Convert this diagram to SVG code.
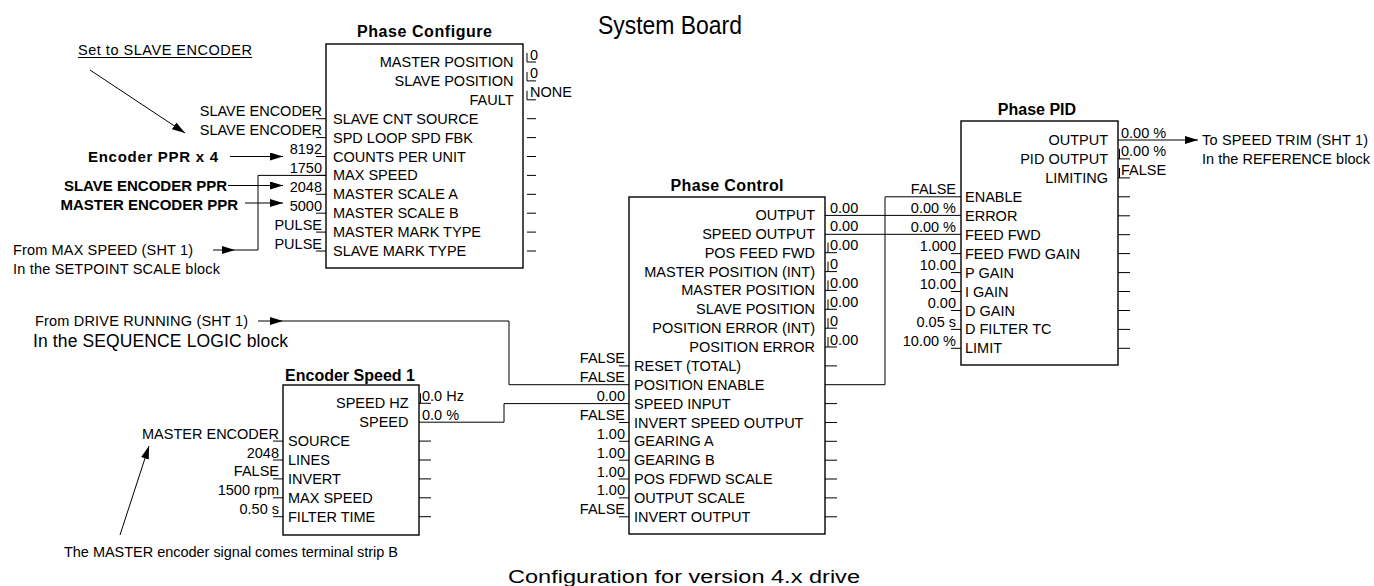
<svg xmlns="http://www.w3.org/2000/svg" width="1374" height="586" viewBox="0 0 1374 586">
<defs>
<style>
text{font-family:"Liberation Sans",Arial,sans-serif;fill:#000}
.t{font-size:14.5px}
.e{text-anchor:end}
.m{text-anchor:middle}
.b{font-size:15px;font-weight:bold}
.ttl{font-size:16px;font-weight:bold;text-anchor:middle}
.box{fill:#fff;stroke:#000;stroke-width:1.4}
.ln{fill:none;stroke:#000;stroke-width:1}
</style>
<marker id="arr" viewBox="0 0 13 8" refX="13" refY="4" markerWidth="13" markerHeight="8" markerUnits="userSpaceOnUse" orient="auto"><path d="M0,0 L13,4 L0,8 z" fill="#000"/></marker>
</defs>
<rect width="1374" height="586" fill="#fff"/>

<text x="598" y="34" style="font-size:26px" textLength="144" lengthAdjust="spacingAndGlyphs">System Board</text>
<text x="508" y="583" style="font-size:18px" textLength="352" lengthAdjust="spacingAndGlyphs">Configuration for version 4.x drive</text>

<!-- annotations -->
<g id="notes">
<text class="t" x="78" y="55" textLength="174">Set to SLAVE ENCODER</text>
<path class="ln" d="M78,57.5 H252"/>
<text class="b" x="88" y="161.5" textLength="130">Encoder PPR x 4</text>
<text class="b e" x="227" y="190.5">SLAVE ENCODER PPR</text>
<text class="b e" x="238" y="210">MASTER ENCODER PPR</text>
<text class="t" x="13" y="255" textLength="180">From MAX SPEED (SHT 1)</text>
<text class="t" x="13" y="274" textLength="207">In the SETPOINT SCALE block</text>
<text class="t" x="35" y="326" textLength="213">From DRIVE RUNNING (SHT 1)</text>
<text x="33" y="347" style="font-size:17.5px" textLength="255">In the SEQUENCE LOGIC block</text>
<text class="t" x="1202" y="145" textLength="166">To SPEED TRIM (SHT 1)</text>
<text class="t" x="1202" y="163.5" textLength="168">In the REFERENCE block</text>
<text class="t" x="64" y="557" textLength="334">The MASTER encoder signal comes terminal strip B</text>
</g>

<!-- Phase Configure -->
<g id="phase-configure">
<rect class="box" x="326" y="44" width="197" height="224"/>
<text class="ttl" x="424.5" y="37" textLength="135">Phase Configure</text>
<text class="t e" x="513.5" y="67">MASTER POSITION</text>
<text class="t e" x="513.5" y="85.9">SLAVE POSITION</text>
<text class="t e" x="513.5" y="104.8">FAULT</text>
<text class="t" x="333" y="123.7">SLAVE CNT SOURCE</text>
<text class="t" x="333" y="142.6">SPD LOOP SPD FBK</text>
<text class="t" x="333" y="161.5">COUNTS PER UNIT</text>
<text class="t" x="333" y="180.4">MAX SPEED</text>
<text class="t" x="333" y="199.3">MASTER SCALE A</text>
<text class="t" x="333" y="218.2">MASTER SCALE B</text>
<text class="t" x="333" y="237.1">MASTER MARK TYPE</text>
<text class="t" x="333" y="256">SLAVE MARK TYPE</text>
<path class="ln" d="M527,53 V62 H536 M527,71.9 V80.9 H536 M527,90.8 V99.8 H536 M527,118.7 H536 M527,137.6 H536 M527,156.5 H536 M527,175.4 H536 M527,194.3 H536 M527,213.2 H536 M527,232.1 H536 M527,251 H536"/>
<text class="t" x="530" y="59.5">0</text>
<text class="t" x="530" y="78.4">0</text>
<text class="t" x="530" y="97.3">NONE</text>
<path class="ln" d="M316,118.7 H326 M316,137.6 H326 M316,156.5 H326 M316,175.4 H326 M316,194.3 H326 M316,213.2 H326 M316,232.1 H326 M316,251 H326"/>
<text class="t e" x="322" y="116.2">SLAVE ENCODER</text>
<text class="t e" x="322" y="135.1">SLAVE ENCODER</text>
<text class="t e" x="322" y="154">8192</text>
<text class="t e" x="322" y="172.9">1750</text>
<text class="t e" x="322" y="191.8">2048</text>
<text class="t e" x="322" y="210.7">5000</text>
<text class="t e" x="322" y="229.6">PULSE</text>
<text class="t e" x="322" y="248.5">PULSE</text>
</g>

<!-- Phase Control -->
<g id="phase-control">
<rect class="box" x="629" y="197" width="196" height="337"/>
<text class="ttl" x="727" y="191" textLength="113">Phase Control</text>
<text class="t e" x="815" y="220">OUTPUT</text>
<text class="t e" x="815" y="238.9">SPEED OUTPUT</text>
<text class="t e" x="815" y="257.7">POS FEED FWD</text>
<text class="t e" x="815" y="276.6">MASTER POSITION (INT)</text>
<text class="t e" x="815" y="295.4">MASTER POSITION</text>
<text class="t e" x="815" y="314.3">SLAVE POSITION</text>
<text class="t e" x="815" y="333.2">POSITION ERROR (INT)</text>
<text class="t e" x="815" y="352">POSITION ERROR</text>
<text class="t" x="634" y="370.9">RESET (TOTAL)</text>
<text class="t" x="634" y="389.7">POSITION ENABLE</text>
<text class="t" x="634" y="408.6">SPEED INPUT</text>
<text class="t" x="634" y="427.5">INVERT SPEED OUTPUT</text>
<text class="t" x="634" y="446.3">GEARING A</text>
<text class="t" x="634" y="465.2">GEARING B</text>
<text class="t" x="634" y="484">POS FDFWD SCALE</text>
<text class="t" x="634" y="502.9">OUTPUT SCALE</text>
<text class="t" x="634" y="521.8">INVERT OUTPUT</text>
<text class="t" x="830" y="212.5">0.00</text>
<text class="t" x="830" y="231.4">0.00</text>
<text class="t" x="830" y="250.2">0.00</text>
<text class="t" x="830" y="269.1">0</text>
<text class="t" x="830" y="287.9">0.00</text>
<text class="t" x="830" y="306.8">0.00</text>
<text class="t" x="830" y="325.7">0</text>
<text class="t" x="830" y="344.5">0.00</text>
<path class="ln" d="M828,242.7 V252.7 M825,252.7 H837 M828,261.6 V271.6 M825,271.6 H837 M828,280.4 V290.4 M825,290.4 H837 M828,299.3 V309.3 M825,309.3 H837 M828,318.2 V328.2 M825,328.2 H837 M828,337 V347 M825,347 H837 M825,365.9 H837 M825,403.6 H837 M825,422.5 H837 M825,441.3 H837 M825,460.2 H837 M825,479 H837 M825,497.9 H837 M825,516.8 H837"/>
<path class="ln" d="M619,365.9 H629 M619,422.5 H629 M619,441.3 H629 M619,460.2 H629 M619,479 H629 M619,497.9 H629 M619,516.8 H629"/>
<text class="t e" x="625" y="363.4">FALSE</text>
<text class="t e" x="625" y="382.2">FALSE</text>
<text class="t e" x="625" y="401.1">0.00</text>
<text class="t e" x="625" y="420">FALSE</text>
<text class="t e" x="625" y="438.8">1.00</text>
<text class="t e" x="625" y="457.7">1.00</text>
<text class="t e" x="625" y="476.5">1.00</text>
<text class="t e" x="625" y="495.4">1.00</text>
<text class="t e" x="625" y="514.3">FALSE</text>
</g>

<!-- Phase PID -->
<g id="phase-pid">
<rect class="box" x="961" y="121" width="157" height="244"/>
<text class="ttl" x="1037" y="115">Phase PID</text>
<text class="t e" x="1108" y="145">OUTPUT</text>
<text class="t e" x="1108" y="163.9">PID OUTPUT</text>
<text class="t e" x="1108" y="182.9">LIMITING</text>
<text class="t" x="965" y="201.8">ENABLE</text>
<text class="t" x="965" y="220.8">ERROR</text>
<text class="t" x="965" y="239.7">FEED FWD</text>
<text class="t" x="965" y="258.6">FEED FWD GAIN</text>
<text class="t" x="965" y="277.6">P GAIN</text>
<text class="t" x="965" y="296.5">I GAIN</text>
<text class="t" x="965" y="315.5">D GAIN</text>
<text class="t" x="965" y="334.4">D FILTER TC</text>
<text class="t" x="965" y="353.3">LIMIT</text>
<text class="t" x="1121" y="137.5">0.00 %</text>
<text class="t" x="1121" y="156.4">0.00 %</text>
<text class="t" x="1121" y="175.4">FALSE</text>
<path class="ln" d="M1119.5,148.9 V158.9 M1118,158.9 H1130 M1119.5,167.9 V177.9 M1118,177.9 H1130 M1118,196.8 H1130 M1118,215.8 H1130 M1118,234.7 H1130 M1118,253.6 H1130 M1118,272.6 H1130 M1118,291.5 H1130 M1118,310.5 H1130 M1118,329.4 H1130 M1118,348.3 H1130"/>
<path class="ln" d="M951,253.6 H961 M951,272.6 H961 M951,291.5 H961 M951,310.5 H961 M951,329.4 H961 M951,348.3 H961"/>
<text class="t e" x="956" y="194.3">FALSE</text>
<text class="t e" x="956" y="213.3">0.00 %</text>
<text class="t e" x="956" y="232.2">0.00 %</text>
<text class="t e" x="956" y="251.1">1.000</text>
<text class="t e" x="956" y="270.1">10.00</text>
<text class="t e" x="956" y="289">10.00</text>
<text class="t e" x="956" y="308">0.00</text>
<text class="t e" x="956" y="326.9">0.05 s</text>
<text class="t e" x="956" y="345.8">10.00 %</text>
</g>

<!-- Encoder Speed 1 -->
<g id="encoder-speed-1">
<rect class="box" x="283" y="385" width="136" height="150"/>
<text class="ttl" x="350" y="381">Encoder Speed 1</text>
<text class="t e" x="408.5" y="408.3">SPEED HZ</text>
<text class="t e" x="408.5" y="427.2">SPEED</text>
<text class="t" x="288" y="446.1">SOURCE</text>
<text class="t" x="288" y="465">LINES</text>
<text class="t" x="288" y="483.9">INVERT</text>
<text class="t" x="288" y="502.8">MAX SPEED</text>
<text class="t" x="288" y="521.7">FILTER TIME</text>
<text class="t" x="422" y="400.8">0.0 Hz</text>
<text class="t" x="422" y="419.7">0.0 %</text>
<path class="ln" d="M420.5,393.3 V403.3 M419,403.3 H431 M419,441.1 H431 M419,460 H431 M419,478.9 H431 M419,497.8 H431 M419,516.7 H431"/>
<path class="ln" d="M273,441.1 H283 M273,460 H283 M273,478.9 H283 M273,497.8 H283 M273,516.7 H283"/>
<text class="t e" x="279" y="438.6">MASTER ENCODER</text>
<text class="t e" x="279" y="457.5">2048</text>
<text class="t e" x="279" y="476.4">FALSE</text>
<text class="t e" x="279" y="495.3">1500 rpm</text>
<text class="t e" x="279" y="514.2">0.50 s</text>
</g>

<!-- connectors -->
<g id="connectors">
<path class="ln" d="M90,70 L185,133" marker-end="url(#arr)"/>
<path class="ln" d="M230,156.5 H283" marker-end="url(#arr)"/>
<path class="ln" d="M228,185.5 H283" marker-end="url(#arr)"/>
<path class="ln" d="M245,203 H283" marker-end="url(#arr)"/>
<path class="ln" d="M213,250 H235" marker-end="url(#arr)"/>
<path class="ln" d="M235,250 H258 V175.4 H326"/>
<path class="ln" d="M258,321 H283" marker-end="url(#arr)"/>
<path class="ln" d="M283,321 H509 V384.7 H629"/>
<path class="ln" d="M825,384.7 H885 V196.8 H961"/>
<path class="ln" d="M825,215.4 H961"/>
<path class="ln" d="M825,234.3 H961"/>
<path class="ln" d="M419,422.2 H504 V403.6 H629"/>
<path class="ln" d="M1118,140 H1198" marker-end="url(#arr)"/>
<path class="ln" d="M120,535 L149,446" marker-end="url(#arr)"/>
</g>
</svg>
